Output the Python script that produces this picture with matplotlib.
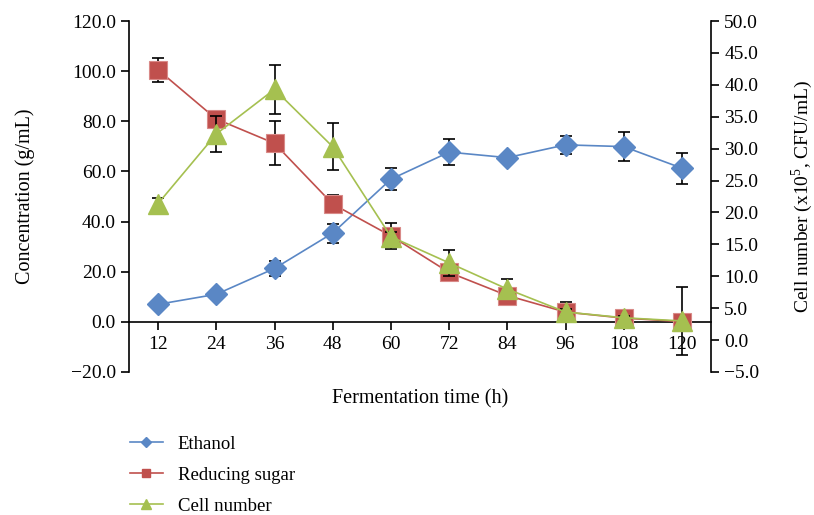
import matplotlib
matplotlib.use("Agg")
import matplotlib.pyplot as plt
from matplotlib.lines import Line2D
from matplotlib.ticker import FuncFormatter, MultipleLocator
import numpy as np

plt.rcParams["font.family"] = ["Liberation Serif", "DejaVu Serif"]
plt.rcParams["mathtext.fontset"] = "custom"
plt.rcParams["mathtext.rm"] = "Liberation Serif"

# data
time_h = [12, 24, 36, 48, 60, 72, 84, 96, 108, 120]
ethanol = [7.0, 11.0, 21.3, 35.4, 56.9, 67.7, 65.5, 70.6, 69.9, 61.3]
ethanol_err = [0.8, 0.8, 3.0, 3.8, 4.5, 5.3, 1.2, 3.5, 5.9, 6.2]
sugar = [100.5, 80.9, 71.2, 47.0, 34.3, 19.7, 10.5, 3.9, 1.5, 0.1]
sugar_err = [4.9, 1.5, 8.8, 3.7, 5.2, 1.2, 1.5, 4.0, 1.0, 0.5]
cells = [21.4, 32.3, 39.3, 30.3, 16.2, 12.1, 8.0, 4.4, 3.5, 3.0]
cells_err = [0.9, 2.8, 3.8, 3.7, 0.8, 2.0, 1.6, 0.5, 0.3, 5.3]

BLUE = "#5a87c5"
RED = "#c0504d"
GREEN = "#a5c050"

x = np.arange(len(time_h))

fig = plt.figure(figsize=(8.14, 5.15), dpi=100)
ax = fig.add_axes([129 / 814, 1 - 372 / 515, 582 / 814, 351 / 515])
ax2 = ax.twinx()

ebar = dict(ecolor="black", elinewidth=1.2, capsize=4, capthick=1.2)

ax.errorbar(x, ethanol, yerr=ethanol_err, fmt="none", zorder=2, **ebar)
ax.plot(x, ethanol, "-", color=BLUE, lw=1.2, marker="D", ms=11,
        mfc=BLUE, mec=BLUE, zorder=3)
ax.errorbar(x, sugar, yerr=sugar_err, fmt="none", zorder=4, **ebar)
ax.plot(x, sugar, "-", color=RED, lw=1.2, marker="s", ms=13,
        mfc=RED, mec="#d98a88", mew=0.8, zorder=5)

ax2.errorbar(x, cells, yerr=cells_err, fmt="none", zorder=2, **ebar)
ax2.plot(x, cells, "-", color=GREEN, lw=1.2, marker="^", ms=15,
         mfc=GREEN, mec=GREEN, zorder=3)

# left axis
ax.set_ylim(-20, 120)
ax.yaxis.set_major_locator(MultipleLocator(20))
fmt = FuncFormatter(lambda v, p: f"{v:.1f}".replace("-", "\u2212"))
ax.yaxis.set_major_formatter(fmt)
ax.set_xlim(-0.5, len(x) - 0.5)
ax.set_xticks(x)
ax.set_xticklabels([str(t) for t in time_h])
ax.spines["top"].set_visible(False)
ax.spines["right"].set_visible(False)
ax.spines["bottom"].set_position(("data", 0))
for s in ax.spines.values():
    s.set_linewidth(1.2)
ax.tick_params(axis="both", labelsize=14, width=1.2, length=6, direction="out")
ax.tick_params(axis="x", pad=4)
ax.set_ylabel("Concentration (g/mL)", fontsize=14.5)
ax.yaxis.set_label_coords(-0.162, 0.5)
ax.set_xlabel("Fermentation time (h)", fontsize=14.5)
ax.xaxis.set_label_coords(0.5, -0.048)

# right axis
ax2.set_ylim(-5, 50)
ax2.yaxis.set_major_locator(MultipleLocator(5))
ax2.yaxis.set_major_formatter(fmt)
for side in ["top", "left", "bottom"]:
    ax2.spines[side].set_visible(False)
ax2.spines["right"].set_linewidth(1.2)
ax2.tick_params(axis="y", labelsize=14, width=1.2, length=6, direction="out")
ax2.set_ylabel(r"Cell number (x10$^{5}$, CFU/mL)", fontsize=14)
ax2.yaxis.set_label_coords(1.134, 0.5)

handles = [
    Line2D([], [], color=BLUE, lw=1.2, marker="D", ms=5),
    Line2D([], [], color=RED, lw=1.2, marker="s", ms=6),
    Line2D([], [], color=GREEN, lw=1.2, marker="^", ms=7),
]
fig.legend(handles, ["Ethanol", "Reducing sugar", "Cell number"],
           loc="upper left", bbox_to_anchor=(113 / 814, 1 - 419 / 515),
           frameon=False, fontsize=13.5, handlelength=1.75, labelspacing=0.74,
           handletextpad=0.8)

fig.savefig("out.png", dpi=100)
